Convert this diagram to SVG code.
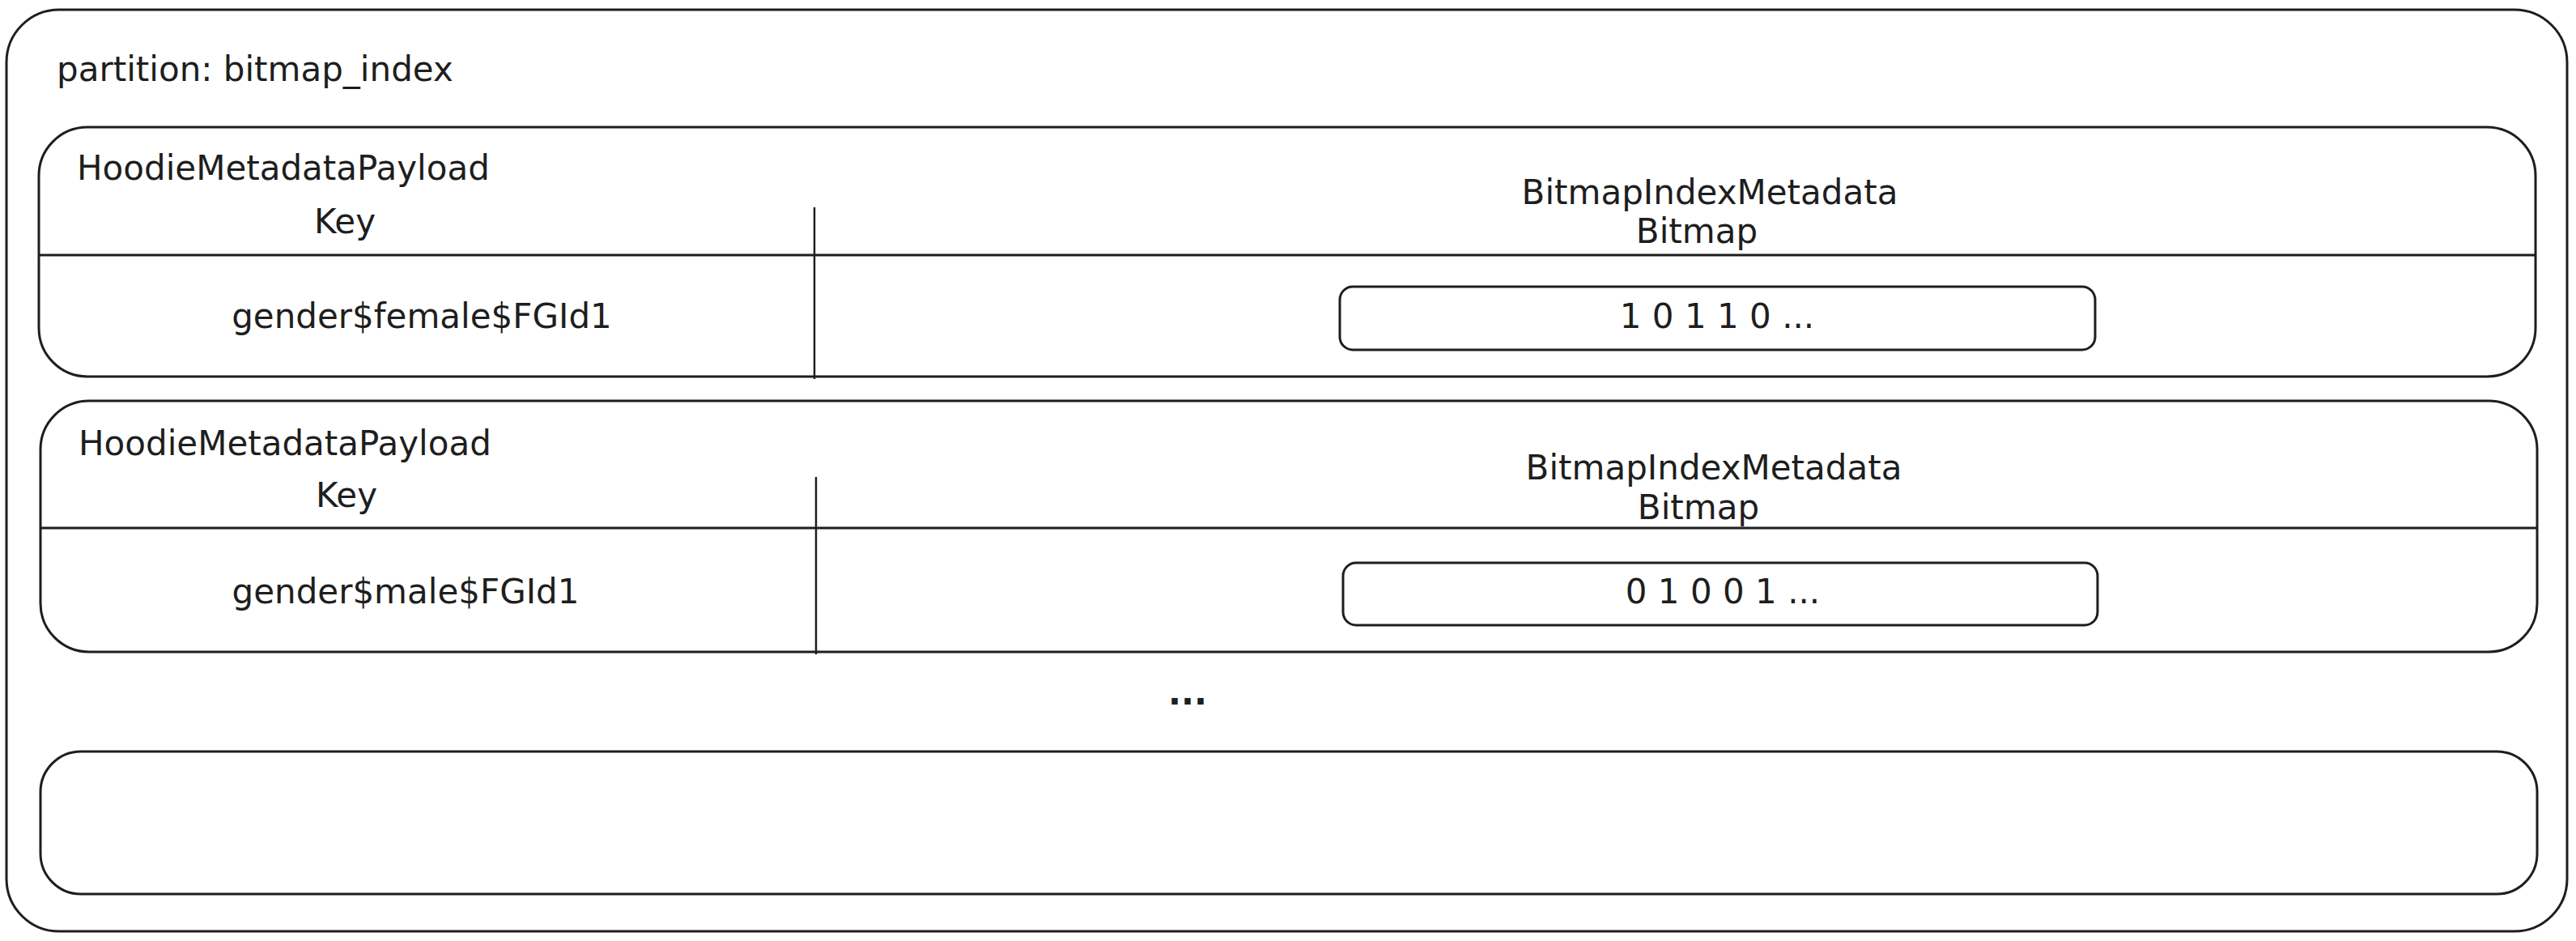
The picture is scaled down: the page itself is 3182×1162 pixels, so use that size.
<svg xmlns="http://www.w3.org/2000/svg" width="3182" height="1162" viewBox="0 0 3182 1162">
  <style>
    .box { fill: #ffffff; stroke: #1e1e1e; stroke-width: 3; }
    .inner { fill: none; stroke: #1e1e1e; stroke-width: 3; }
    .div { stroke: #1e1e1e; stroke-width: 3; fill: none; }
    .vdiv { stroke: #1e1e1e; stroke-width: 2.5; fill: none; }
    text { font-family: "DejaVu Sans", "Liberation Sans", sans-serif; font-size: 42px; fill: #1e1e1e; }
    .c { text-anchor: middle; }
    .dots { font-weight: bold; }
  </style>
  <rect width="3182" height="1162" fill="#ffffff"/>

  <g id="partition">
    <rect class="box" x="8" y="12" width="3163" height="1138" rx="65" ry="65"/>
    <text x="70" y="100">partition: bitmap_index</text>
  </g>

  <g id="row-female">
    <rect class="box" x="48" y="157" width="3084" height="308" rx="60" ry="60"/>
    <line class="div" x1="48" y1="315" x2="3132" y2="315"/>
    <line class="vdiv" x1="1006" y1="256" x2="1006" y2="468"/>
    <text x="95" y="222">HoodieMetadataPayload</text>
    <text class="c" x="426" y="288">Key</text>
    <text class="c" x="521" y="405">gender$female$FGId1</text>
    <text class="c" x="2112" y="252">BitmapIndexMetadata</text>
    <text class="c" x="2096" y="300">Bitmap</text>
    <g id="bitmap-female">
      <rect class="inner" x="1655" y="354" width="933" height="78" rx="16" ry="16"/>
      <text class="c" x="2121" y="405">1 0 1 1 0 ...</text>
    </g>
  </g>

  <g id="row-male">
    <rect class="box" x="50" y="495" width="3084" height="310" rx="60" ry="60"/>
    <line class="div" x1="50" y1="652" x2="3134" y2="652"/>
    <line class="vdiv" x1="1008" y1="589" x2="1008" y2="808"/>
    <text x="97" y="562">HoodieMetadataPayload</text>
    <text class="c" x="428" y="626">Key</text>
    <text class="c" x="501" y="745">gender$male$FGId1</text>
    <text class="c" x="2117" y="592">BitmapIndexMetadata</text>
    <text class="c" x="2098" y="641">Bitmap</text>
    <g id="bitmap-male">
      <rect class="inner" x="1659" y="695" width="932" height="77" rx="16" ry="16"/>
      <text class="c" x="2128" y="745">0 1 0 0 1 ...</text>
    </g>
  </g>

  <g id="ellipsis">
    <text class="c dots" x="1467" y="870">...</text>
  </g>

  <g id="row-empty">
    <rect class="box" x="50" y="928" width="3084" height="176" rx="50" ry="50"/>
  </g>

  <g id="connectors"></g>
</svg>
